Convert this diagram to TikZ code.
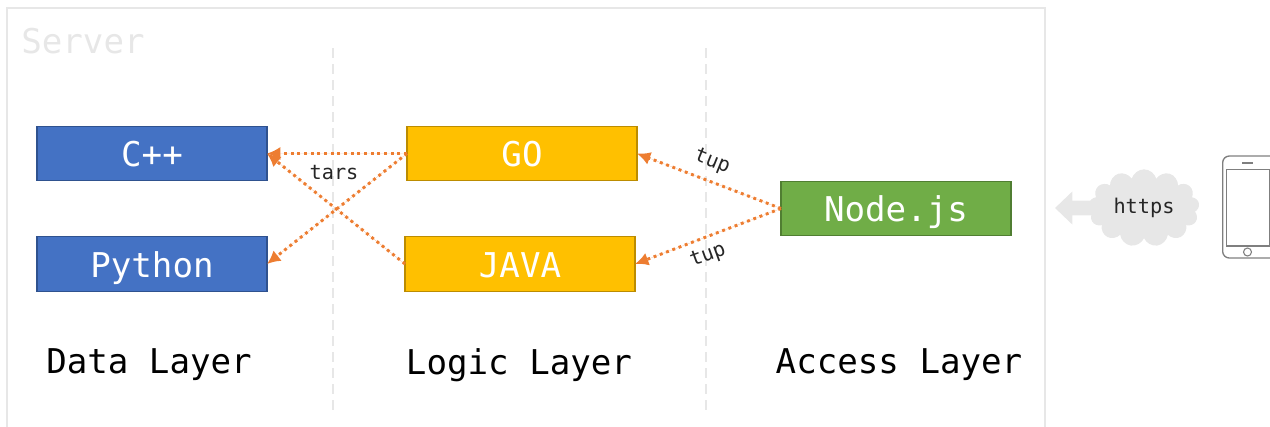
\documentclass[tikz,border=0pt]{standalone}
\usepackage{fontspec}
\setmonofont{DejaVu Sans Mono}
\usepackage{tikz}
\usetikzlibrary{arrows,arrows.meta,shapes.symbols}
\definecolor{lightline}{HTML}{E7E7E7}
\definecolor{linkorange}{HTML}{ED7D31}
\definecolor{phonegray}{HTML}{7F7F7F}
\definecolor{databluefill}{HTML}{4472C4}
\definecolor{datablueline}{HTML}{2F528F}
\definecolor{logicfill}{HTML}{FFC000}
\definecolor{logicline}{HTML}{BC8C00}
\definecolor{accessfill}{HTML}{70AD47}
\definecolor{accessline}{HTML}{507E32}
\tikzset{
  layerbox/.style={draw, line width=.8pt, minimum width=172.5pt, minimum height=41pt, outer sep=0pt, text=white, text height=20.5pt, text depth=1pt, font=\ttfamily\fontsize{25.6}{30}\selectfont},
  databox/.style={layerbox, fill=databluefill, draw=datablueline},
  logicbox/.style={layerbox, fill=logicfill, draw=logicline},
  accessbox/.style={layerbox, fill=accessfill, draw=accessline},
  layername/.style={font=\ttfamily\fontsize{25.6}{30}\selectfont},
  smalllabel/.style={font=\ttfamily\fontsize{15.2}{18}\selectfont, text=black!85},
  link/.style={-{Latex[length=10pt,width=10pt]}, draw=linkorange, fill=linkorange, line width=2.2pt, dash pattern=on 2.2pt off 2.8pt},
  layercut/.style={lightline, line width=2pt, dash pattern=on 7.5pt off 4.5pt},
}
\begin{document}
\begin{tikzpicture}[>=latex, x=0.75pt, y=-0.75pt]
\useasboundingbox (0,0) rectangle (1270,426);
% server frame
\draw[lightline, line width=1pt] (7,450) -- (7,8) -- (1045,8) -- (1045,450);
\node[layername, text=lightline] (server) at (83,41) {Server};
\draw[layercut] (333,48) -- (333,410);
\draw[layercut] (706,48) -- (706,410);
% layers
\node[databox] (cpp) at (152,153.5) {C++};
\node[databox] (python) at (152,264) {Python};
\node[logicbox] (go) at (522,153.5) {GO};
\node[logicbox] (java) at (520,264) {JAVA};
\node[accessbox] (nodejs) at (896,208.5) {Node.js};
\node[layername] (data) at (149,365) {Data Layer};
\node[layername] (logic) at (519,365) {Logic Layer};
\node[layername] (access) at (899,365) {Access Layer};
% links
\draw[link] (go.west) to (cpp.east);
\draw[link] (go.west) to (python.east);
\draw[link] (java.west) to (cpp.east);
\draw[link] (nodejs.west) to (go.east);
\draw[link] (nodejs.west) to (java.east);
\node[smalllabel] (tars) at (334,173) {tars};
\node[smalllabel, rotate=-22] (tupa) at (712,162) {tup};
\node[smalllabel, rotate=20] (tupb) at (708,256) {tup};
% client
\coordinate (tip) at (1055,208);
\node[cloud, fill=lightline, cloud puffs=13, aspect=1.5, minimum width=83pt, minimum height=58pt, inner sep=0pt, smalllabel] (https) at (1144,208) {https};
\draw[lightline, line width=11pt, shorten <=-6pt, -{Triangle[length=13pt,width=24pt]}] (https.west) -- (tip);
\node[draw=phonegray, line width=1pt, rounded corners=5pt, minimum width=41pt, minimum height=76.5pt, outer sep=0pt] (phone) at (1250,207) {};
\node[draw=phonegray, line width=1pt, minimum width=32pt, minimum height=57.5pt, outer sep=0pt] (screen) at (1248,207.5) {};
\node[draw=phonegray, circle, line width=.8pt, minimum size=6pt, inner sep=0pt] (homekey) at (1247.5,252) {};
\node[fill=phonegray, minimum width=8pt, minimum height=1.6pt, inner sep=0pt] (speaker) at (1247.5,163) {};
\end{tikzpicture}
\end{document}
